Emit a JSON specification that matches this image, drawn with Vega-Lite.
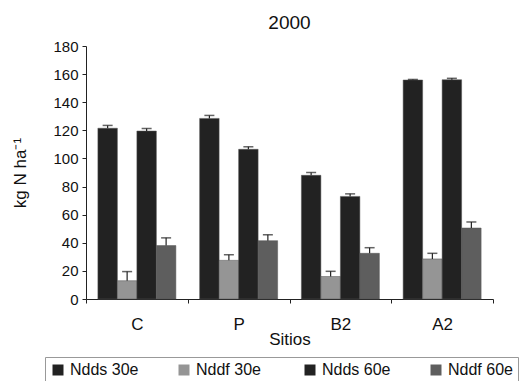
{
  "$schema": "https://vega.github.io/schema/vega-lite/v6.json",
  "width": 407,
  "height": 253,
  "autosize": {"type": "none"},
  "padding": {"left": 86, "top": 46, "right": 38, "bottom": 82},
  "title": {"text": "2000", "fontSize": 19, "fontWeight": "normal", "font": "Liberation Sans", "color": "#111", "offset": 6},
  "config": {
    "font": "Liberation Sans",
    "view": {"stroke": null},
    "axis": {"labelColor": "#111", "titleColor": "#111", "domainColor": "#222", "tickColor": "#222", "grid": false, "labelFont": "Liberation Sans", "titleFont": "Liberation Sans", "titleFontWeight": "normal"},
    "axisY": {"values": [0, 20, 40, 60, 80, 100, 120, 140, 160, 180], "labelFontSize": 15, "titleFontSize": 17, "tickSize": 4, "labelPadding": 4, "titlePadding": 23, "labelOverlap": false}
  },
  "data": {
    "values": [
      {"sitio": "C", "serie": "Ndds 30e", "valor": 121.5, "sup": 123.5},
      {"sitio": "C", "serie": "Nddf 30e", "valor": 13, "sup": 19.5},
      {"sitio": "C", "serie": "Ndds 60e", "valor": 119.5, "sup": 121.3},
      {"sitio": "C", "serie": "Nddf 60e", "valor": 38, "sup": 43.5},
      {"sitio": "P", "serie": "Ndds 30e", "valor": 128.5, "sup": 130.6},
      {"sitio": "P", "serie": "Nddf 30e", "valor": 27.5, "sup": 31.5},
      {"sitio": "P", "serie": "Ndds 60e", "valor": 106.5, "sup": 108.3},
      {"sitio": "P", "serie": "Nddf 60e", "valor": 41.5, "sup": 45.7},
      {"sitio": "B2", "serie": "Ndds 30e", "valor": 88, "sup": 90},
      {"sitio": "B2", "serie": "Nddf 30e", "valor": 16, "sup": 19.7},
      {"sitio": "B2", "serie": "Ndds 60e", "valor": 73, "sup": 74.8},
      {"sitio": "B2", "serie": "Nddf 60e", "valor": 32.5, "sup": 36.5},
      {"sitio": "A2", "serie": "Ndds 30e", "valor": 155.8, "sup": 156.2},
      {"sitio": "A2", "serie": "Nddf 30e", "valor": 28.5, "sup": 32.5},
      {"sitio": "A2", "serie": "Ndds 60e", "valor": 156, "sup": 157},
      {"sitio": "A2", "serie": "Nddf 60e", "valor": 50.5, "sup": 54.8}
    ]
  },
  "encoding": {
    "x": {
      "field": "sitio", "type": "nominal", "sort": ["C", "P", "B2", "A2"],
      "scale": {"paddingInner": 0, "paddingOuter": 0},
      "axis": {"title": "Sitios", "labelAngle": 0, "labelFontSize": 17, "titleFontSize": 17, "tickBand": "extent", "tickSize": 4, "labelPadding": 13, "titlePadding": -1}
    },
    "xOffset": {
      "field": "serie", "type": "nominal", "sort": ["Ndds 30e", "Nddf 30e", "Ndds 60e", "Nddf 60e"],
      "scale": {"paddingInner": 0, "paddingOuter": 0.61}
    }
  },
  "layer": [
    {
      "mark": {"type": "bar", "stroke": "#555", "strokeWidth": 0.5},
      "encoding": {
        "y": {
          "field": "valor", "type": "quantitative", "title": "kg N ha⁻¹",
          "scale": {"domain": [0, 180], "nice": false}
        },
        "color": {
          "field": "serie", "type": "nominal",
          "scale": {"domain": ["Ndds 30e", "Nddf 30e", "Ndds 60e", "Nddf 60e"], "range": ["#222222", "#959595", "#222222", "#5e5e5e"]},
          "legend": {
            "title": null, "orient": "none", "direction": "horizontal", "columns": 4, "gridAlign": "all",
            "legendX": -41, "legendY": 311, "symbolType": "square", "symbolSize": 121, "symbolStrokeWidth": 0,
            "labelFontSize": 16, "labelColor": "#111", "labelOffset": 4, "columnPadding": 37,
            "strokeColor": "#999", "padding": 5,
            "encode": {"legend": {"update": {"strokeDash": {"value": [4, 2]}}}}
          }
        }
      }
    },
    {
      "mark": {"type": "rule", "color": "#222", "strokeWidth": 1.2},
      "encoding": {"y": {"field": "valor", "type": "quantitative", "title": "kg N ha⁻¹"}, "y2": {"field": "sup"}}
    },
    {
      "mark": {"type": "tick", "color": "#222", "thickness": 1.5, "size": 10},
      "encoding": {"y": {"field": "sup", "type": "quantitative", "title": "kg N ha⁻¹"}}
    }
  ]
}
